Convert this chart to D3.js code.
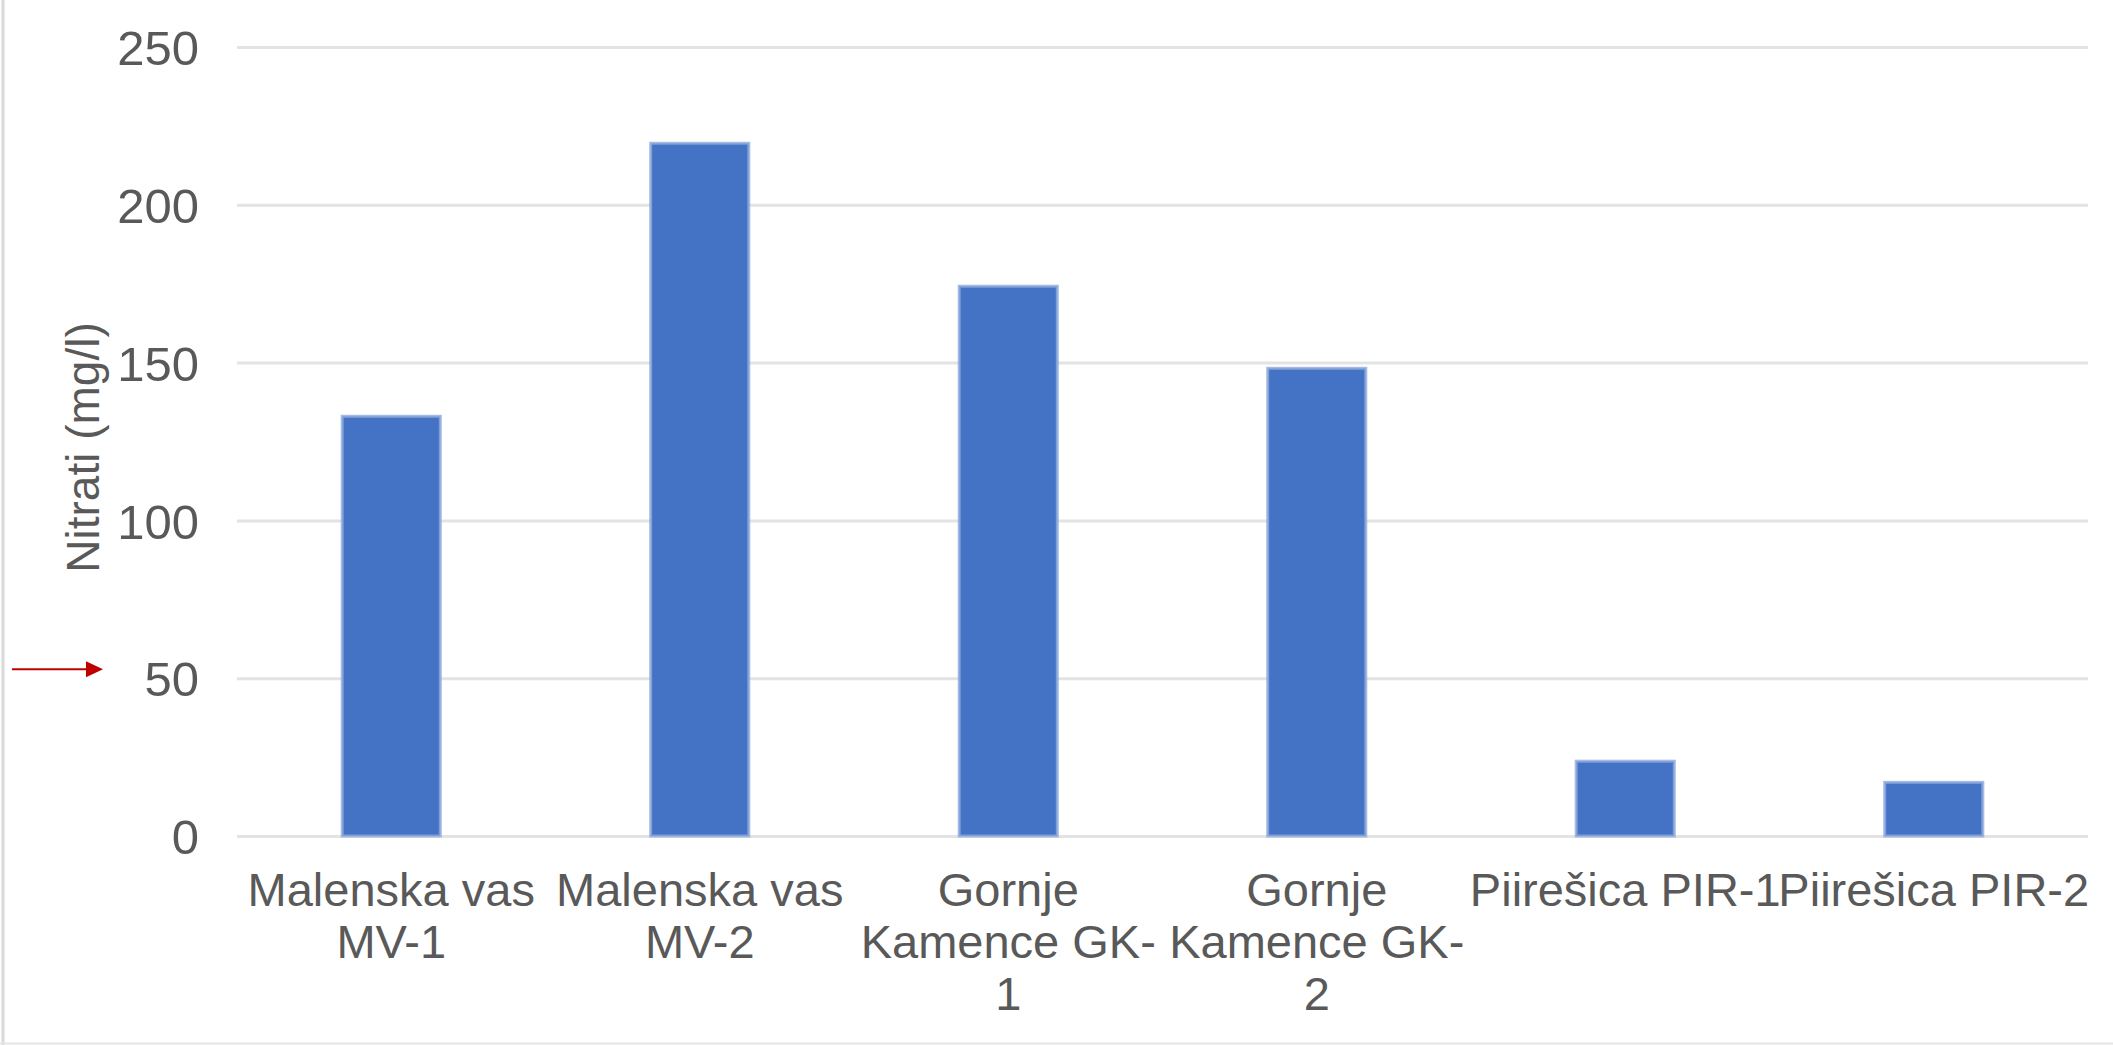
<!DOCTYPE html>
<html>
<head>
<meta charset="utf-8">
<script src="https://cdn.jsdelivr.net/npm/d3@7"></script>
<style>
    body { margin: 0; background: #fff; }
    text { font-family: "Liberation Sans", Arial, sans-serif; fill: #595959; }
</style>
</head>
<body>
<svg id="chart"></svg>
<script>
// Data
// ----------------------------------------
const categories = ["MV-1", "MV-2", "GK-1", "GK-2", "PIR-1", "PIR-2"];
const categoryLines = [
    ["Malenska vas", "MV-1"],
    ["Malenska vas", "MV-2"],
    ["Gornje", "Kamence GK-", "1"],
    ["Gornje", "Kamence GK-", "2"],
    ["Piirešica PIR-1"],
    ["Piirešica PIR-2"]
];
const nitrates = [133, 219.5, 174.2, 148.2, 23.7, 17];
const yTicks = [0, 50, 100, 150, 200, 250];
const yTitle = "Nitrati (mg/l)";
const markedTick = 50;

// Layout
// ----------------------------------------
const width = 2113,
      height = 1045,
      plot = { left: 237, right: 2088, top: 47, bottom: 836 };

const svg = d3.select("#chart")
    .attr("width", width)
    .attr("height", height);

const x = d3.scaleBand()
    .domain(categories)
    .range([plot.left, plot.right])
    .paddingInner(0.682)
    .paddingOuter(0.341);

const y = d3.scaleLinear()
    .domain([0, 250])
    .range([plot.bottom, plot.top]);

// frame edges (left + bottom as in the picture)
svg.append("line")
    .attr("x1", 3).attr("x2", 3)
    .attr("y1", 0).attr("y2", height)
    .attr("stroke", "#d9d9d9")
    .attr("stroke-width", 3);
svg.append("line")
    .attr("x1", 0).attr("x2", width)
    .attr("y1", height - 1.5).attr("y2", height - 1.5)
    .attr("stroke", "#e6e6e6")
    .attr("stroke-width", 2);

// Grid + y axis
// ----------------------------------------
const yAxis = svg.append("g")
    .attr("transform", `translate(${plot.left},0)`)
    .call(d3.axisLeft(y)
        .tickValues(yTicks)
        .tickSize(-(plot.right - plot.left))
        .tickPadding(38));

yAxis.select(".domain").remove();
yAxis.selectAll(".tick line")
    .attr("stroke", "#e3e3e3")
    .attr("stroke-width", 3);
yAxis.selectAll(".tick text")
    .attr("font-size", 49)
    .attr("dy", "0.36em")
    .style("fill", "#595959");

svg.append("text")
    .attr("transform", `translate(99,${(plot.top + plot.bottom) / 2 + 6}) rotate(-90)`)
    .attr("text-anchor", "middle")
    .attr("font-size", 46)
    .text(yTitle);

// Bars
// ----------------------------------------
svg.append("g")
    .selectAll("rect")
    .data(nitrates)
    .join("rect")
    .attr("x", (d, i) => x(categories[i]))
    .attr("y", d => y(d))
    .attr("width", x.bandwidth())
    .attr("height", d => y(0) - y(d))
    .attr("fill", "#4472c4")
    .attr("stroke", "#8eaadc")
    .attr("stroke-opacity", 0.8)
    .attr("stroke-width", 3);

// Category labels (wrapped lines)
// ----------------------------------------
const lineHeight = 52;
const labels = svg.append("g")
    .selectAll("text")
    .data(categoryLines)
    .join("text")
    .attr("text-anchor", "middle")
    .attr("font-size", 47)
    .attr("x", (d, i) => x(categories[i]) + x.bandwidth() / 2)
    .attr("y", 906);

labels.selectAll("tspan")
    .data(d => d)
    .join("tspan")
    .attr("x", function() { return this.parentNode.getAttribute("x"); })
    .attr("dy", (d, i) => i === 0 ? 0 : lineHeight)
    .text(d => d);

// Red marker arrow pointing at the 50 tick
// ----------------------------------------
const arrowY = y(markedTick) - 9;
svg.append("line")
    .attr("x1", 12).attr("x2", 88)
    .attr("y1", arrowY).attr("y2", arrowY)
    .attr("stroke", "#c00000")
    .attr("stroke-width", 2);
svg.append("path")
    .attr("d", `M86,${arrowY - 8} L103,${arrowY} L86,${arrowY + 8} Z`)
    .attr("fill", "#c00000");
</script>
</body>
</html>
